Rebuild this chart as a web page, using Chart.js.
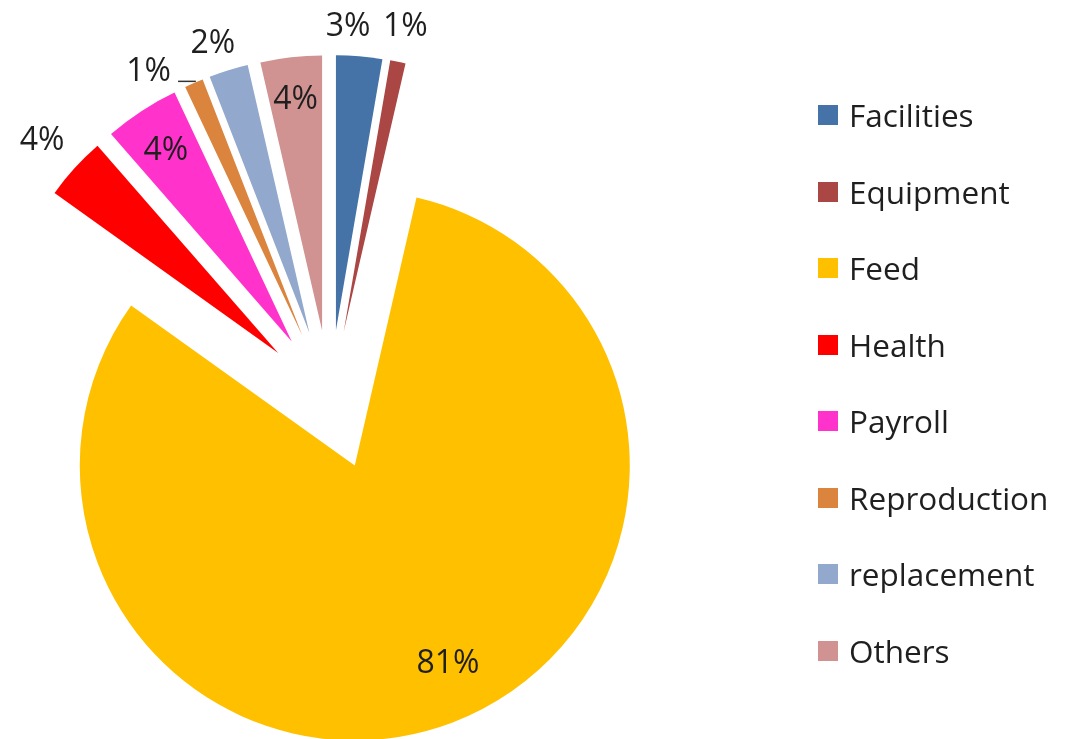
<!DOCTYPE html>
<html><head><meta charset="utf-8">
<script src="https://cdn.jsdelivr.net/npm/chart.js@4"></script>
<style>
html,body{margin:0;padding:0;background:#fff;overflow:hidden}
#wrap{position:relative;width:1065px;height:739px}
canvas{position:absolute;left:0;top:0}
#legend{position:absolute;left:818px;top:0;font-family:"Open Sans",sans-serif;font-size:31.5px;color:#1f1f1f}
.item{position:absolute;left:0;display:flex;align-items:center;white-space:nowrap;height:40px;line-height:40px}
.sw{width:20px;height:20px;margin-right:11px;flex:none}
</style></head><body>
<div id="wrap"><canvas id="c" width="1065" height="739"></canvas><div id="legend"></div></div>
<script>
// ---- data ----
const categories = ["Facilities","Equipment","Feed","Health","Payroll","Reproduction","replacement","Others"];
const values = [2.7, 0.9, 81.2, 3.7, 4.4, 1.1, 2.3, 3.6];
const colors = ["#4572A7","#AA4643","#FFC000","#FF0000","#FF33CC","#DB843D","#92A8CD","#D19392"];

// ---- label layout (distance from slice tip, angular shift in degrees) ----
const labelDistance = [306, 313, 217, 319, 230, 307, 307, 234];
const labelAngleShift = [-2.6, 0, -4.7, 0, 0, -6.8, -1.2, 0];
const leaderLine = [false, false, false, false, false, true, false, false];
const EXPLODE = 70;
const LABEL_FONT = 32;

const total = values.reduce((a, b) => a + b, 0);

const explodePlugin = {
  id: 'explode',
  beforeDatasetDraw(chart, args) {
    const ctx = chart.ctx;
    args.meta.data.forEach(arc => {
      const mid = (arc.startAngle + arc.endAngle) / 2;
      ctx.save();
      ctx.translate(Math.cos(mid) * EXPLODE, Math.sin(mid) * EXPLODE);
      arc.draw(ctx);
      ctx.restore();
    });
    return false;
  },
  afterDraw(chart) {
    const ctx = chart.ctx;
    const meta = chart.getDatasetMeta(0);
    ctx.save();
    ctx.font = LABEL_FONT + 'px "Open Sans", sans-serif';
    ctx.fillStyle = '#1f1f1f';
    ctx.textAlign = 'center';
    ctx.textBaseline = 'alphabetic';
    meta.data.forEach((arc, i) => {
      const mid = (arc.startAngle + arc.endAngle) / 2;
      const vx = arc.x + Math.cos(mid) * EXPLODE;
      const vy = arc.y + Math.sin(mid) * EXPLODE;
      const a = mid + labelAngleShift[i] * Math.PI / 180;
      const cx = vx + Math.cos(a) * labelDistance[i];
      const cy = vy + Math.sin(a) * labelDistance[i];
      const txt = Math.round(values[i] / total * 100) + '%';
      const base = cy + 0.357 * LABEL_FONT;
      ctx.fillText(txt, cx, base);
      if (leaderLine[i]) {
        const w = ctx.measureText(txt).width;
        const ox = vx + Math.cos(mid) * arc.outerRadius;
        ctx.beginPath();
        ctx.strokeStyle = '#333';
        ctx.lineWidth = 1.5;
        ctx.moveTo(cx + w / 2 + 7, base);
        ctx.lineTo(ox + 2, base);
        ctx.stroke();
      }
    });
    ctx.restore();
  }
};

new Chart(document.getElementById('c'), {
  type: 'pie',
  data: {
    labels: categories,
    datasets: [{
      data: values,
      backgroundColor: colors,
      borderWidth: 0,
      offset: 0
    }]
  },
  options: {
    responsive: false,
    animation: false,
    events: [],
    radius: 275,
    layout: { padding: { left: 0, right: 405, top: 61, bottom: 0 } },
    plugins: { legend: { display: false }, tooltip: { enabled: false }, title: { display: false } }
  },
  plugins: [explodePlugin]
});

// ---- legend ----
const legend = document.getElementById('legend');
categories.forEach((name, i) => {
  const it = document.createElement('div');
  it.className = 'item';
  it.style.top = (115 + i * 76.5 - 20) + 'px';
  const sw = document.createElement('span');
  sw.className = 'sw';
  sw.style.background = colors[i];
  const tx = document.createElement('span');
  tx.textContent = name;
  it.appendChild(sw); it.appendChild(tx);
  legend.appendChild(it);
});
</script>
</body></html>
